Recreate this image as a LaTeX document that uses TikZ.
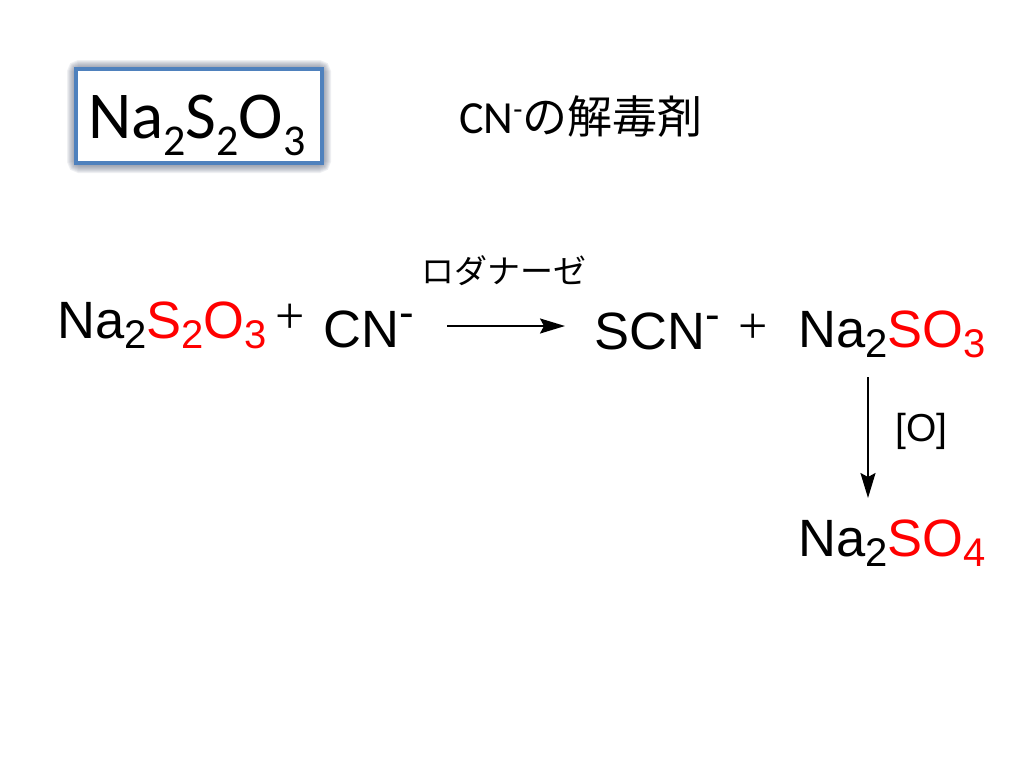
\documentclass[tikz,border=0pt]{standalone}
\usepackage{fontspec}
\setmainfont{Liberation Sans}
\newfontfamily\cjk{Noto Sans CJK JP}
\newfontfamily\titlefont{Carlito}
\newfontfamily\plusfont{Liberation Serif}
\usetikzlibrary{arrows.meta}
\definecolor{boxblue}{RGB}{79,129,189}
\definecolor{glow}{RGB}{80,90,115}
\newcommand{\red}[1]{\textcolor{red}{#1}}
\newcommand{\chemsub}[1]{\raisebox{-10pt}{\fontsize{40}{40}\selectfont #1}}
\newcommand{\chemsup}{\raisebox{20pt}{\fontsize{44}{44}\selectfont -}}
\newcommand{\titlesub}[1]{\raisebox{-17pt}{\fontsize{44}{44}\selectfont #1}}
\tikzset{
  chem/.style={inner sep=0pt, anchor=base west, font=\fontsize{52.5}{52.5}\selectfont},
  plus/.style={inner sep=0pt, anchor=base west, font=\plusfont\fontsize{52}{52}\selectfont},
  rxn/.style={-{Stealth[length=25pt,width=15pt,inset=4pt]}, line width=2pt},
}
\begin{document}
\begin{tikzpicture}[x=1pt, y=-1pt, >=stealth]
  \useasboundingbox (0,0) rectangle (1024,768);

  \foreach \w in {20,18,16,14,12,10,8,6}
    \draw[glow, line width=\w pt, opacity=0.09, rounded corners=3pt] (77,70) rectangle (321,163);
  \node[draw=boxblue, line width=4pt, fill=white, minimum width=246pt, minimum height=94pt,
    inner sep=0pt] at (199,116) (title) {};
  \node[inner sep=0pt, anchor=base west, font=\titlefont\fontsize{67}{67}\selectfont] at (88,138) (formula) {Na\titlesub{2}S\titlesub{2}O\titlesub{3}};
  \node[inner sep=0pt, anchor=base west, font=\titlefont\fontsize{46}{46}\selectfont] at (459,133) (note) {CN\raisebox{14pt}{\fontsize{30}{30}\selectfont -}{\cjk\fontsize{45}{45}\selectfont の解毒剤}};

  \node[chem] at (57,338) (thio) {Na\chemsub{2}\red{S\chemsub{2}O\chemsub{3}}};
  \node[plus] at (275,333) (plus1) {+};
  \node[chem] at (323,347) (cn) {CN\chemsup};
  \node[inner sep=0pt, anchor=base west, font=\cjk\fontsize{33}{33}\selectfont] at (421,283) (enzyme) {ロダナーゼ};
  \node[chem] at (594,349) (scn) {SCN\chemsup};
  \node[plus] at (738,343) (plus2) {+};
  \node[chem] at (798,347) (sulfite) {Na\chemsub{2}\red{SO\chemsub{3}}};
  \node[inner sep=0pt, anchor=base west, font=\fontsize{39}{39}\selectfont] at (895,441) (oxy) {[O]};
  \node[chem] at (798,556) (sulfate) {Na\chemsub{2}\red{SO\chemsub{4}}};

  \coordinate (arrowa) at (447,326);
  \coordinate (arrowb) at (565,326);
  \coordinate (arrowc) at (868,377);
  \coordinate (arrowd) at (868,498);
  \draw[rxn] (arrowa) -- (arrowb);
  \draw[rxn] (arrowc) -- (arrowd);
\end{tikzpicture}
\end{document}
